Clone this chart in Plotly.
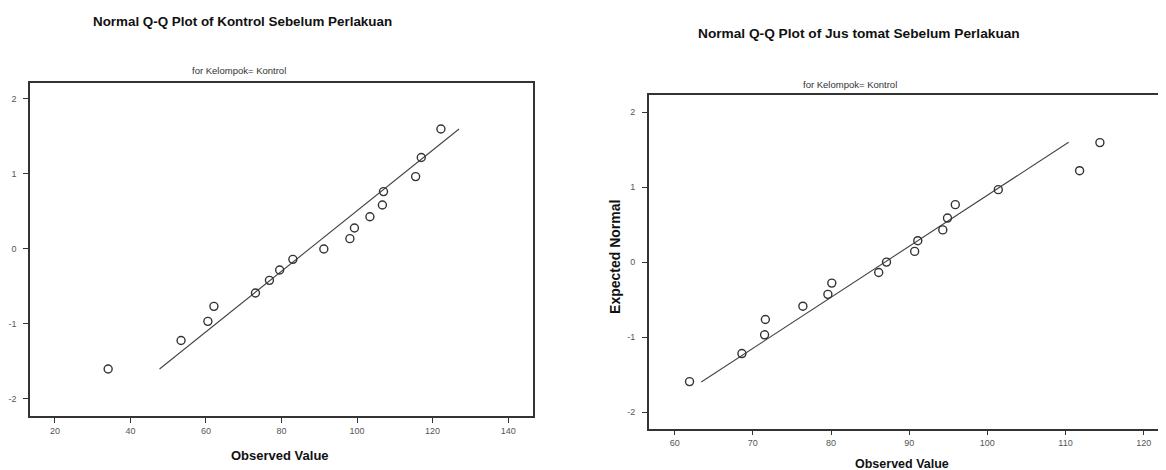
import plotly.graph_objects as go

# ---- Data: left panel (Kontrol Sebelum Perlakuan) ----
kontrol_observed = [34.1, 53.4, 60.5, 62.1, 73.1, 76.8, 79.5, 83.0, 91.2, 98.1,
                    99.3, 103.4, 106.7, 107.0, 115.5, 117.0, 122.2]
kontrol_expected = [-1.60, -1.22, -0.965, -0.765, -0.587, -0.418, -0.28, -0.138, 0.0,
                    0.138, 0.28, 0.43, 0.587, 0.765, 0.965, 1.22, 1.60]
kontrol_line_x = [47.7, 127.0]
kontrol_line_y = [-1.60, 1.60]

# ---- Data: right panel (Jus tomat Sebelum Perlakuan) ----
jus_observed = [61.9, 68.6, 71.5, 71.6, 76.4, 79.6, 80.1, 86.1, 87.1, 90.7,
                91.1, 94.3, 94.9, 95.9, 101.4, 111.8, 114.4]
jus_expected = [-1.594, -1.22, -0.97, -0.765, -0.588, -0.43, -0.28, -0.138, 0.0,
                0.143, 0.286, 0.43, 0.588, 0.767, 0.967, 1.22, 1.595]
jus_line_x = [63.4, 110.4]
jus_line_y = [-1.60, 1.60]

left_xticks = [20, 40, 60, 80, 100, 120, 140]
right_xticks = [60, 70, 80, 90, 100, 110, 120]
yticks = [-2, -1, 0, 1, 2]
ytick_labels = ["-2", "-1", "0", "1", "2"]

# page body adds an 8px margin; lay out in reference pixels and shift
OFF = 8
W, H = 1166 - OFF, 470 - OFF
FONT = "Liberation Sans, Arial, sans-serif"
INK = "#333333"

def px(x):
    return (x - OFF) / W

def py(y):
    return 1 - (y - OFF) / H

fig = go.Figure()

marker = dict(symbol="circle-open", size=8, color=INK, line=dict(width=1.4, color=INK))

fig.add_trace(go.Scatter(x=kontrol_line_x, y=kontrol_line_y, mode="lines",
                         line=dict(color="#444444", width=1.1), xaxis="x", yaxis="y",
                         showlegend=False, hoverinfo="skip"))
fig.add_trace(go.Scatter(x=kontrol_observed, y=kontrol_expected, mode="markers",
                         marker=marker, xaxis="x", yaxis="y", showlegend=False))
fig.add_trace(go.Scatter(x=jus_line_x, y=jus_line_y, mode="lines",
                         line=dict(color="#444444", width=1.1), xaxis="x2", yaxis="y2",
                         showlegend=False, hoverinfo="skip"))
fig.add_trace(go.Scatter(x=jus_observed, y=jus_expected, mode="markers",
                         marker=marker, xaxis="x2", yaxis="y2", showlegend=False))

axis_common = dict(showline=True, mirror=True, linecolor=INK, linewidth=1.5,
                   ticks="outside", ticklen=5, tickwidth=1.2, tickcolor=INK,
                   showgrid=False, zeroline=False,
                   tickfont=dict(family=FONT, size=9, color="#555555"))

fig.update_layout(
    width=W, height=H,
    margin=dict(l=0, r=0, t=0, b=0),
    paper_bgcolor="white", plot_bgcolor="white",
    xaxis=dict(domain=[px(30), px(534)], range=[13.4, 146.6], tickvals=left_xticks,
               anchor="y", **axis_common),
    yaxis=dict(domain=[py(416), py(83)], range=[-2.227, 2.213], tickvals=yticks,
               ticktext=ytick_labels, anchor="x", ticklabelstandoff=5, **axis_common),
    xaxis2=dict(domain=[px(650), 1.0], range=[56.7, 122.6], tickvals=right_xticks,
                anchor="y2", **axis_common),
    yaxis2=dict(domain=[py(428.5), py(95)], range=[-2.22, 2.23], tickvals=yticks,
                ticktext=ytick_labels, anchor="x2", ticklabelstandoff=5, **axis_common),
)

def ann(text, x, y, size, bold=False, angle=0, color="#111111"):
    fig.add_annotation(text=f"<b>{text}</b>" if bold else text,
                       x=px(x), y=py(y), xref="paper", yref="paper",
                       xanchor="center", yanchor="middle", showarrow=False,
                       textangle=angle, font=dict(family=FONT, size=size, color=color))

ann("Normal Q-Q Plot of Kontrol Sebelum Perlakuan", 243, 22, 13.4, bold=True)
ann("for Kelompok= Kontrol", 239, 71, 9.5, color="#333333")
ann("Observed Value", 280, 455, 13, bold=True)

ann("Normal Q-Q Plot of Jus tomat Sebelum Perlakuan", 860, 33, 13.7, bold=True)
ann("for Kelompok= Kontrol", 851, 85, 9.5, color="#333333")
ann("Observed Value", 904, 464, 12.5, bold=True)
ann("Expected Normal", 616, 257, 14, bold=True, angle=-90)

fig.write_html("out.html")
